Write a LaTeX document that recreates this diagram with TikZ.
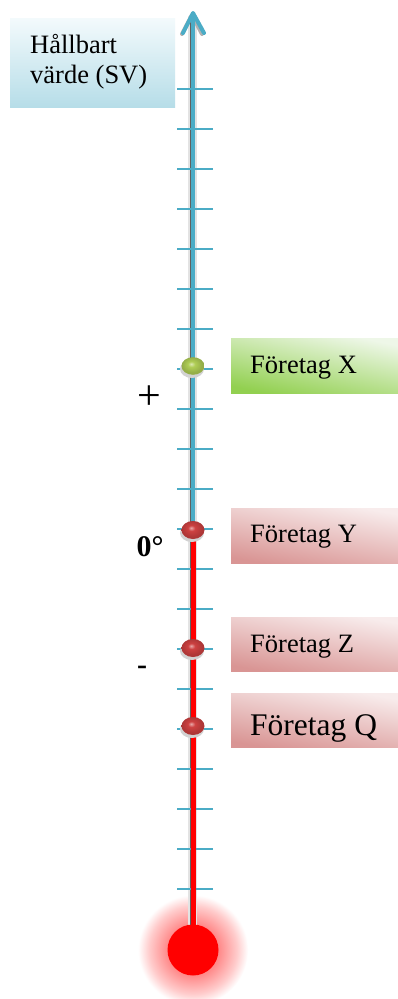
\documentclass[tikz,border=0pt]{standalone}
\usepackage{fontspec}
\setmainfont{Liberation Serif}
\definecolor{axisblue}{HTML}{4BACC6}
\definecolor{svtop}{HTML}{F3FAFC}
\definecolor{svbot}{HTML}{B6DDE8}
\definecolor{gdark}{HTML}{92D050}
\definecolor{glight}{HTML}{EEF7E8}
\definecolor{rdark}{HTML}{D99594}
\definecolor{rlight}{HTML}{F8ECEC}
\definecolor{ballgreen}{RGB}{175,205,85}
\definecolor{ballred}{RGB}{205,65,65}
\pgfdeclareradialshading{bulbglow}{\pgfpoint{0bp}{0bp}}{color(0bp)=(red!70); color(12bp)=(red!45); color(20bp)=(red!20); color(25bp)=(white); color(50bp)=(white)}
\pgfdeclareradialshading{redball}{\pgfpoint{-4bp}{6bp}}{color(0bp)=(ballred!45!white); color(8bp)=(ballred); color(22bp)=(ballred!85!black); color(50bp)=(ballred!85!black)}
\pgfdeclareradialshading{greenball}{\pgfpoint{-4bp}{6bp}}{color(0bp)=(ballgreen!45!white); color(8bp)=(ballgreen); color(22bp)=(ballgreen!85!black); color(50bp)=(ballgreen!85!black)}
\tikzset{
  tickmark/.style={axisblue, line width=2.4pt},
  boxtext/.style={anchor=base west, inner sep=0pt, font=\fontsize{26.5}{30}\selectfont},
  greenbox/.style={anchor=north west, inner sep=0pt, minimum width=167pt, minimum height=55pt,
    top color=glight, bottom color=gdark, shading angle=-12},
  redbox/.style={anchor=north west, inner sep=0pt, minimum width=167pt, minimum height=55pt,
    top color=rlight, bottom color=rdark, shading angle=-10},
  bigsign/.style={anchor=center, inner sep=0pt},
}
\begin{document}
\begin{tikzpicture}[x=1pt,y=-1pt]
\useasboundingbox (0,0) rectangle (398,999);
\fill[white] (0,0) rectangle (398,999);

% SV box
\node[anchor=north west, inner sep=0pt, minimum width=165pt, minimum height=89pt,
  top color=svtop, bottom color=svbot] (svbox) at (10,18) {};
\node[boxtext] (sv1) at (30,53) {Hållbart};
\node[boxtext] (sv2) at (30,83) {värde (SV)};

% glow
\shade[shading=bulbglow] (193,950) circle (55);

% axis shadow
\draw[gray!22, line width=9pt] (192,16) -- (192,925);
\draw[gray!75!black, line width=2pt] (190.5,16) -- (190.5,925);

% ticks
\foreach \k in {0,...,20}{
  \draw[tickmark] (177,{89+40*\k}) -- (213,{89+40*\k});
}

% axis
\coordinate (top) at (193,13);
\coordinate (zero) at (193,530);
\coordinate (bulbtop) at (193,930);
\draw[gray!60, line width=4pt, line cap=round, line join=round] (182,34) -- (192,15) -- (202,34);
\draw[axisblue, line width=4.5pt] (top) -- (zero);
\draw[axisblue, line width=4pt, line cap=round, line join=round] (183,33) -- (top) -- (204,33);
\draw[red, line width=5pt] (zero) -- (bulbtop);
\fill[red] (193,950) circle (25.5);

% balls
\fill[gray!35] (192,369) ellipse (12 and 9);
\shade[shading=greenball] (193,366) ellipse (11.5 and 8.8);
\foreach \yy in {530, 648, 726}{
  \fill[gray!35] (192,{\yy+3}) ellipse (12 and 9);
  \shade[shading=redball] (193,\yy) ellipse (11.5 and 9);
}

% company boxes
\node[greenbox] (bx) at (231,338) {};
\node[boxtext] (tx) at (250,373) {Företag X};
\node[redbox] (by) at (231,508) {};
\node[boxtext] (ty) at (250,542) {Företag Y};
\node[redbox, minimum height=54pt] (bz) at (231,617) {};
\node[boxtext] (tz) at (250,652) {Företag Z};
\node[redbox, minimum height=54pt] (bq) at (231,693) {};
\node[boxtext, font=\fontsize{31.5}{34}\selectfont] (tq) at (250,735) {Företag Q};

% signs
\node[bigsign, font=\fontsize{42}{46}\selectfont] (plus) at (149,398) {+};
\node[bigsign, font=\fontsize{30}{34}\selectfont\bfseries] (zerolbl) at (150,547) {0°};
\node[bigsign, font=\fontsize{30}{34}\selectfont\bfseries] (minus) at (142,670) {-};
\end{tikzpicture}
\end{document}
